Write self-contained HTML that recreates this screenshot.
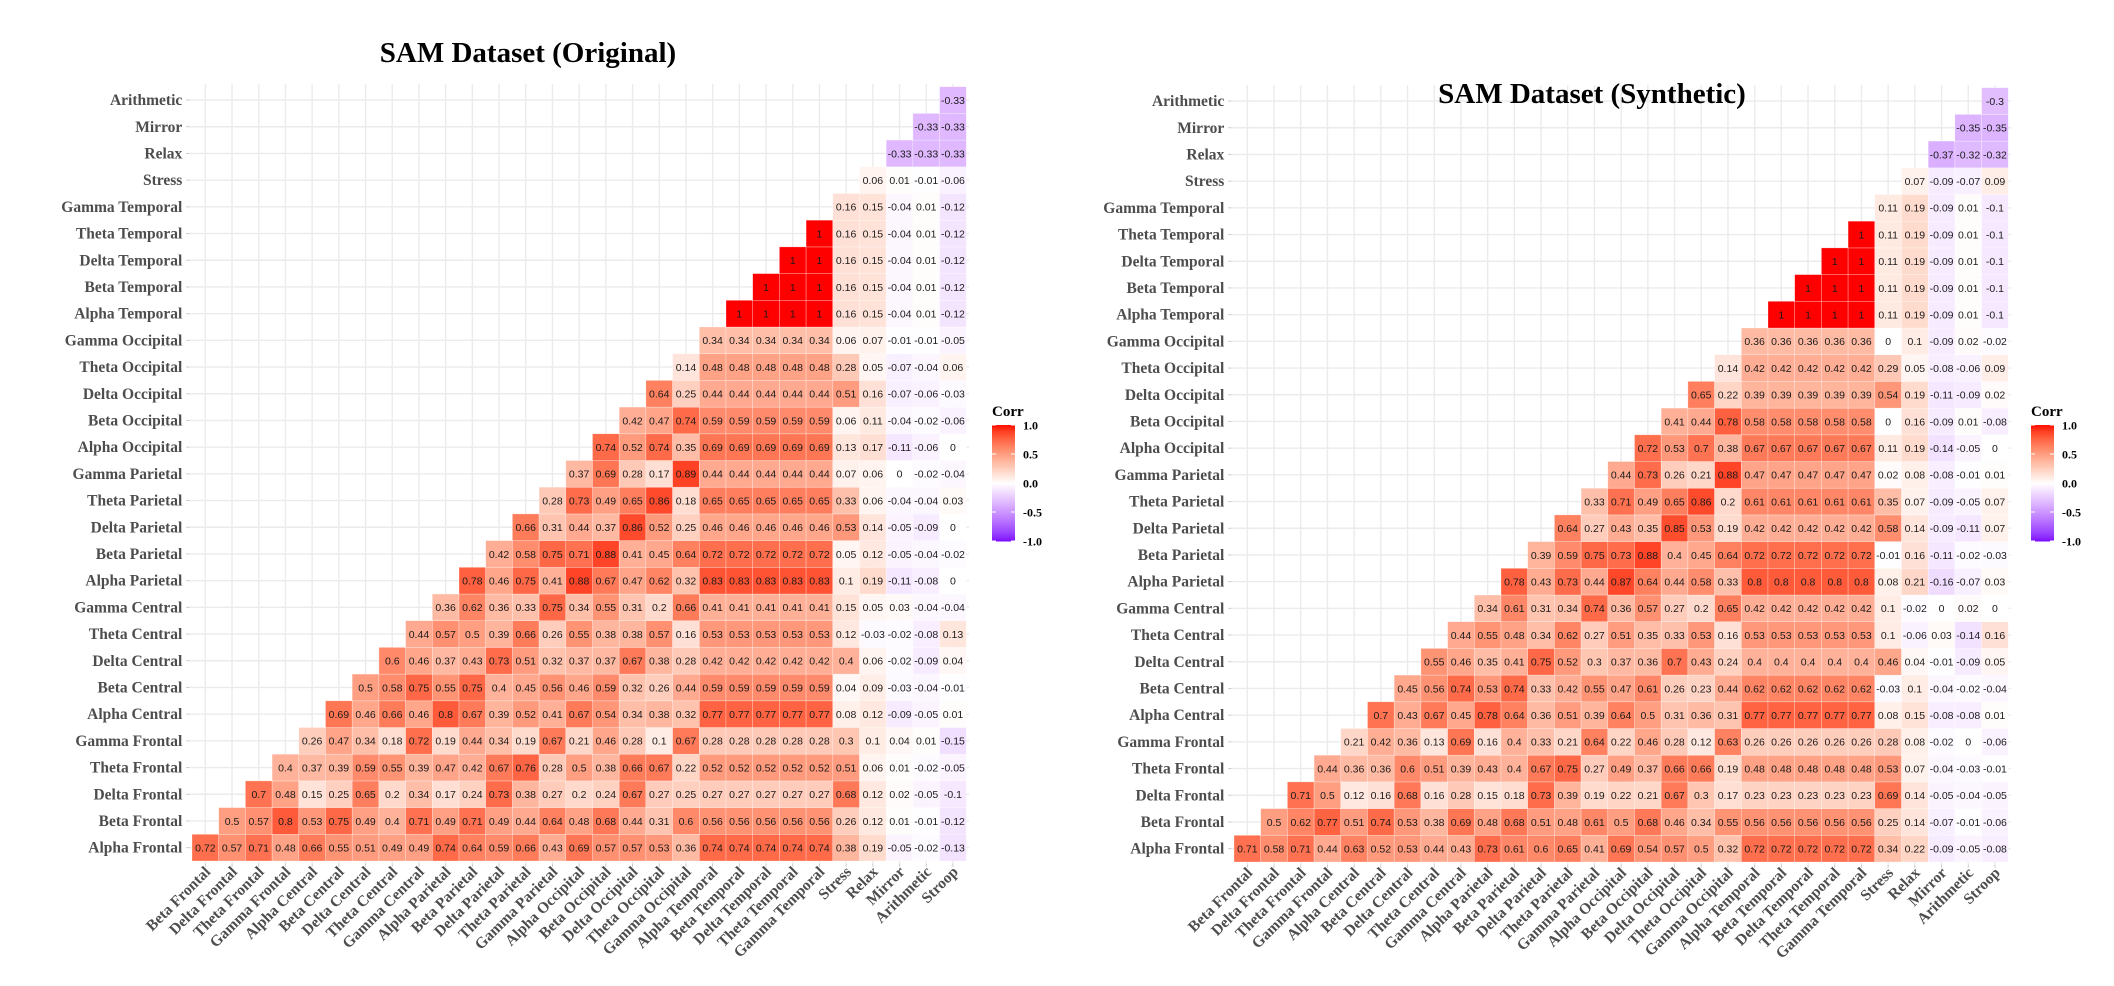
<!DOCTYPE html>
<html>
<head>
<meta charset="utf-8">
<style>
  html,body{margin:0;padding:0;background:#fff;}
  svg{display:block;}
  .ylab,.xlab{font-family:"Liberation Serif",serif;font-weight:bold;font-size:15.5px;fill:#4d4d4d;}
  .cellv{font-family:"Liberation Sans",sans-serif;font-size:10.5px;fill:#1a1a1a;}
  .title{font-family:"Liberation Serif",serif;font-weight:bold;font-size:29px;fill:#000;}
  .legt{font-family:"Liberation Serif",serif;font-weight:bold;font-size:15px;fill:#000;}
  .legl{font-family:"Liberation Serif",serif;font-weight:bold;font-size:12px;fill:#000;}
</style>
</head>
<body>
<svg id="root" width="2114" height="986" viewBox="0 0 2114 986" xmlns="http://www.w3.org/2000/svg">
  <rect x="0" y="0" width="2114" height="986" fill="#fff"/>
  <g id="chartL"></g>
  <g id="chartR"></g>
</svg>
<script>
const variables = ["Alpha Frontal","Beta Frontal","Delta Frontal","Theta Frontal","Gamma Frontal","Alpha Central","Beta Central","Delta Central","Theta Central","Gamma Central","Alpha Parietal","Beta Parietal","Delta Parietal","Theta Parietal","Gamma Parietal","Alpha Occipital","Beta Occipital","Delta Occipital","Theta Occipital","Gamma Occipital","Alpha Temporal","Beta Temporal","Delta Temporal","Theta Temporal","Gamma Temporal","Stress","Relax","Mirror","Arithmetic","Stroop"];
const legendTicks = [1.0, 0.5, 0.0, -0.5, -1.0];
const legendTickLabels = ["1.0","0.5","0.0","-0.5","-1.0"];

const originalRows = [
[0.72,0.57,0.71,0.48,0.66,0.55,0.51,0.49,0.49,0.74,0.64,0.59,0.66,0.43,0.69,0.57,0.57,0.53,0.36,0.74,0.74,0.74,0.74,0.74,0.38,0.19,-0.05,-0.02,-0.13],
[0.5,0.57,0.8,0.53,0.75,0.49,0.4,0.71,0.49,0.71,0.49,0.44,0.64,0.48,0.68,0.44,0.31,0.6,0.56,0.56,0.56,0.56,0.56,0.26,0.12,0.01,-0.01,-0.12],
[0.7,0.48,0.15,0.25,0.65,0.2,0.34,0.17,0.24,0.73,0.38,0.27,0.2,0.24,0.67,0.27,0.25,0.27,0.27,0.27,0.27,0.27,0.68,0.12,0.02,-0.05,-0.1],
[0.4,0.37,0.39,0.59,0.55,0.39,0.47,0.42,0.67,0.76,0.28,0.5,0.38,0.66,0.67,0.22,0.52,0.52,0.52,0.52,0.52,0.51,0.06,0.01,-0.02,-0.05],
[0.26,0.47,0.34,0.18,0.72,0.19,0.44,0.34,0.19,0.67,0.21,0.46,0.28,0.1,0.67,0.28,0.28,0.28,0.28,0.28,0.3,0.1,0.04,0.01,-0.15],
[0.69,0.46,0.66,0.46,0.8,0.67,0.39,0.52,0.41,0.67,0.54,0.34,0.38,0.32,0.77,0.77,0.77,0.77,0.77,0.08,0.12,-0.09,-0.05,0.01],
[0.5,0.58,0.75,0.55,0.75,0.4,0.45,0.56,0.46,0.59,0.32,0.26,0.44,0.59,0.59,0.59,0.59,0.59,0.04,0.09,-0.03,-0.04,-0.01],
[0.6,0.46,0.37,0.43,0.73,0.51,0.32,0.37,0.37,0.67,0.38,0.28,0.42,0.42,0.42,0.42,0.42,0.4,0.06,-0.02,-0.09,0.04],
[0.44,0.57,0.5,0.39,0.66,0.26,0.55,0.38,0.38,0.57,0.16,0.53,0.53,0.53,0.53,0.53,0.12,-0.03,-0.02,-0.08,0.13],
[0.36,0.62,0.36,0.33,0.75,0.34,0.55,0.31,0.2,0.66,0.41,0.41,0.41,0.41,0.41,0.15,0.05,0.03,-0.04,-0.04],
[0.78,0.46,0.75,0.41,0.88,0.67,0.47,0.62,0.32,0.83,0.83,0.83,0.83,0.83,0.1,0.19,-0.11,-0.08,0],
[0.42,0.58,0.75,0.71,0.88,0.41,0.45,0.64,0.72,0.72,0.72,0.72,0.72,0.05,0.12,-0.05,-0.04,-0.02],
[0.66,0.31,0.44,0.37,0.86,0.52,0.25,0.46,0.46,0.46,0.46,0.46,0.53,0.14,-0.05,-0.09,0],
[0.28,0.73,0.49,0.65,0.86,0.18,0.65,0.65,0.65,0.65,0.65,0.33,0.06,-0.04,-0.04,0.03],
[0.37,0.69,0.28,0.17,0.89,0.44,0.44,0.44,0.44,0.44,0.07,0.06,0,-0.02,-0.04],
[0.74,0.52,0.74,0.35,0.69,0.69,0.69,0.69,0.69,0.13,0.17,-0.11,-0.06,0],
[0.42,0.47,0.74,0.59,0.59,0.59,0.59,0.59,0.06,0.11,-0.04,-0.02,-0.06],
[0.64,0.25,0.44,0.44,0.44,0.44,0.44,0.51,0.16,-0.07,-0.06,-0.03],
[0.14,0.48,0.48,0.48,0.48,0.48,0.28,0.05,-0.07,-0.04,0.06],
[0.34,0.34,0.34,0.34,0.34,0.06,0.07,-0.01,-0.01,-0.05],
[1,1,1,1,0.16,0.15,-0.04,0.01,-0.12],
[1,1,1,0.16,0.15,-0.04,0.01,-0.12],
[1,1,0.16,0.15,-0.04,0.01,-0.12],
[1,0.16,0.15,-0.04,0.01,-0.12],
[0.16,0.15,-0.04,0.01,-0.12],
[0.06,0.01,-0.01,-0.06],
[-0.33,-0.33,-0.33],
[-0.33,-0.33],
[-0.33]
];

const syntheticRows = [
[0.71,0.58,0.71,0.44,0.63,0.52,0.53,0.44,0.43,0.73,0.61,0.6,0.65,0.41,0.69,0.54,0.57,0.5,0.32,0.72,0.72,0.72,0.72,0.72,0.34,0.22,-0.09,-0.05,-0.08],
[0.5,0.62,0.77,0.51,0.74,0.53,0.38,0.69,0.48,0.68,0.51,0.48,0.61,0.5,0.68,0.46,0.34,0.55,0.56,0.56,0.56,0.56,0.56,0.25,0.14,-0.07,-0.01,-0.06],
[0.71,0.5,0.12,0.16,0.68,0.16,0.28,0.15,0.18,0.73,0.39,0.19,0.22,0.21,0.67,0.3,0.17,0.23,0.23,0.23,0.23,0.23,0.69,0.14,-0.05,-0.04,-0.05],
[0.44,0.36,0.36,0.6,0.51,0.39,0.43,0.4,0.67,0.75,0.27,0.49,0.37,0.66,0.66,0.19,0.48,0.48,0.48,0.48,0.48,0.53,0.07,-0.04,-0.03,-0.01],
[0.21,0.42,0.36,0.13,0.69,0.16,0.4,0.33,0.21,0.64,0.22,0.46,0.28,0.12,0.63,0.26,0.26,0.26,0.26,0.26,0.28,0.08,-0.02,0,-0.06],
[0.7,0.43,0.67,0.45,0.78,0.64,0.36,0.51,0.39,0.64,0.5,0.31,0.36,0.31,0.77,0.77,0.77,0.77,0.77,0.08,0.15,-0.08,-0.08,0.01],
[0.45,0.56,0.74,0.53,0.74,0.33,0.42,0.55,0.47,0.61,0.26,0.23,0.44,0.62,0.62,0.62,0.62,0.62,-0.03,0.1,-0.04,-0.02,-0.04],
[0.55,0.46,0.35,0.41,0.75,0.52,0.3,0.37,0.36,0.7,0.43,0.24,0.4,0.4,0.4,0.4,0.4,0.46,0.04,-0.01,-0.09,0.05],
[0.44,0.55,0.48,0.34,0.62,0.27,0.51,0.35,0.33,0.53,0.16,0.53,0.53,0.53,0.53,0.53,0.1,-0.06,0.03,-0.14,0.16],
[0.34,0.61,0.31,0.34,0.74,0.36,0.57,0.27,0.2,0.65,0.42,0.42,0.42,0.42,0.42,0.1,-0.02,0,0.02,0],
[0.78,0.43,0.73,0.44,0.87,0.64,0.44,0.58,0.33,0.8,0.8,0.8,0.8,0.8,0.08,0.21,-0.16,-0.07,0.03],
[0.39,0.59,0.75,0.73,0.88,0.4,0.45,0.64,0.72,0.72,0.72,0.72,0.72,-0.01,0.16,-0.11,-0.02,-0.03],
[0.64,0.27,0.43,0.35,0.85,0.53,0.19,0.42,0.42,0.42,0.42,0.42,0.58,0.14,-0.09,-0.11,0.07],
[0.33,0.71,0.49,0.65,0.86,0.2,0.61,0.61,0.61,0.61,0.61,0.35,0.07,-0.09,-0.05,0.07],
[0.44,0.73,0.26,0.21,0.88,0.47,0.47,0.47,0.47,0.47,0.02,0.08,-0.08,-0.01,0.01],
[0.72,0.53,0.7,0.38,0.67,0.67,0.67,0.67,0.67,0.11,0.19,-0.14,-0.05,0],
[0.41,0.44,0.78,0.58,0.58,0.58,0.58,0.58,0,0.16,-0.09,0.01,-0.08],
[0.65,0.22,0.39,0.39,0.39,0.39,0.39,0.54,0.19,-0.11,-0.09,0.02],
[0.14,0.42,0.42,0.42,0.42,0.42,0.29,0.05,-0.08,-0.06,0.09],
[0.36,0.36,0.36,0.36,0.36,0,0.1,-0.09,0.02,-0.02],
[1,1,1,1,0.11,0.19,-0.09,0.01,-0.1],
[1,1,1,0.11,0.19,-0.09,0.01,-0.1],
[1,1,0.11,0.19,-0.09,0.01,-0.1],
[1,0.11,0.19,-0.09,0.01,-0.1],
[0.11,0.19,-0.09,0.01,-0.1],
[0.07,-0.09,-0.07,0.09],
[-0.37,-0.32,-0.32],
[-0.35,-0.35],
[-0.3]
];

const NS = "http://www.w3.org/2000/svg";
function mk(tag, attrs, parent){
  const e = document.createElementNS(NS, tag);
  for (const k in attrs) e.setAttribute(k, attrs[k]);
  parent.appendChild(e);
  return e;
}

// ---- Lab colour interpolation (like ggplot gradient2) ----
function lin(c){c/=255;return c<=0.04045?c/12.92:Math.pow((c+0.055)/1.055,2.4);}
function delin(c){c=c<=0.0031308?12.92*c:1.055*Math.pow(c,1/2.4)-0.055;return Math.max(0,Math.min(255,Math.round(c*255)));}
const Xn=0.95047,Yn=1.0,Zn=1.08883;
function f(t){return t>0.008856?Math.cbrt(t):7.787*t+16/116;}
function finv(t){return t>0.206893?t*t*t:(t-16/116)/7.787;}
function toLab(rgb){
  const r=lin(rgb[0]),g=lin(rgb[1]),b=lin(rgb[2]);
  const X=0.4124*r+0.3576*g+0.1805*b, Y=0.2126*r+0.7152*g+0.0722*b, Z=0.0193*r+0.1192*g+0.9505*b;
  const fx=f(X/Xn),fy=f(Y/Yn),fz=f(Z/Zn);
  return [116*fy-16,500*(fx-fy),200*(fy-fz)];
}
function fromLab(lab){
  const fy=(lab[0]+16)/116, fx=fy+lab[1]/500, fz=fy-lab[2]/200;
  const X=Xn*finv(fx),Y=Yn*finv(fy),Z=Zn*finv(fz);
  const r=3.2406*X-1.5372*Y-0.4986*Z, g=-0.9689*X+1.8758*Y+0.0415*Z, b=0.0557*X-0.2040*Y+1.0570*Z;
  return "rgb("+delin(r)+","+delin(g)+","+delin(b)+")";
}
const LAB_W=toLab([255,255,255]), LAB_HI=toLab([255,0,0]), LAB_LO=toLab([125,0,255]);
function fillFor(v){
  const t=Math.min(1,Math.abs(v)); const end=v>=0?LAB_HI:LAB_LO;
  return fromLab([0,1,2].map(i=>LAB_W[i]+(end[i]-LAB_W[i])*t));
}

const CELL = 26.7;

function drawChart(g, rows, opt){
  const n = variables.length - 1; // 29 rows / columns
  const x0 = opt.x0, yB = opt.yB;
  const xScale = c => x0 + c*CELL;            // left of column c
  const yScale = r => yB - (r+1)*CELL;        // top of row r
  const px0 = x0 - 2.7, px1 = x0 + n*CELL + 2.7, py0 = yB - n*CELL - 2.7, py1 = yB + 2.7;

  // grid
  const grid = mk("g", {}, g);
  
  
  for (let i=0;i<n;i++){
    mk("line",{x1:xScale(i)+CELL/2,x2:xScale(i)+CELL/2,y1:py0,y2:py1,stroke:"#ebebeb","stroke-width":1.4},grid);
    mk("line",{y1:yScale(i)+CELL/2,y2:yScale(i)+CELL/2,x1:px0,x2:px1,stroke:"#ebebeb","stroke-width":1.4},grid);
    mk("line",{x1:xScale(i)+CELL/2,x2:xScale(i)+CELL/2,y1:py1,y2:py1+3,stroke:"#c8c8c8","stroke-width":1},grid);
    mk("line",{y1:yScale(i)+CELL/2,y2:yScale(i)+CELL/2,x1:px0-3,x2:px0,stroke:"#c8c8c8","stroke-width":1},grid);
  }

  // tiles
  const tiles = mk("g", {}, g);
  
  
  rows.forEach((vals, r) => {
    vals.forEach((v, k) => {
      const c = r + k;
      const x = xScale(c), y = yScale(r);
      const cell = mk("g", {}, tiles);
      
      
      mk("rect",{x:x,y:y,width:CELL,height:CELL,fill:fillFor(v),stroke:"#ffffff","stroke-opacity":0.45,"stroke-width":0.6},cell);
      const t = mk("text",{x:x+CELL/2,y:y+CELL/2+3.8,"text-anchor":"middle","class":"cellv"},cell);
      t.textContent = String(v);
    });
  });

  // y labels
  for (let r=0;r<n;r++){
    const t = mk("text",{x:px0-7,y:yScale(r)+CELL/2+5,"text-anchor":"end","class":"ylab"},g);
    
    
    t.textContent = variables[r];
  }
  // x labels
  for (let c=0;c<n;c++){
    const ax = xScale(c)+CELL/2+6, ay = py1+9;
    const t = mk("text",{x:ax,y:ay,"text-anchor":"end","class":"xlab",transform:"rotate(-45 "+ax+" "+ay+")"},g);
    
    
    t.textContent = variables[c+1];
  }

  // title
  const tt = mk("text",{x:opt.titleX,y:opt.titleY,"text-anchor":"middle","class":"title"},g);
  
  
  tt.textContent = opt.title;

  // legend
  const lg = mk("g", {}, g);
  
  
  const lt = mk("text",{x:opt.legX,y:416,"class":"legt"},lg);
  
  
  lt.textContent = "Corr";
  const bTop = 425, bBot = 541, bW = 23;
  const legY = v => bBot - (v+1)/2*(bBot-bTop);
  const steps = 60;
  for (let i=0;i<steps;i++){
    const v1 = -1 + 2*i/steps, v2 = -1 + 2*(i+1)/steps;
    mk("rect",{x:opt.legX,y:legY(v2),width:bW,height:legY(v1)-legY(v2)+0.5,fill:fillFor((v1+v2)/2)},lg);
  }
  legendTicks.forEach((v,i)=>{
    const y = legY(v);
    mk("line",{x1:opt.legX,x2:opt.legX+4,y1:y,y2:y,stroke:"#fff","stroke-width":1},lg);
    mk("line",{x1:opt.legX+bW-4,x2:opt.legX+bW,y1:y,y2:y,stroke:"#fff","stroke-width":1},lg);
    const l = mk("text",{x:opt.legX+bW+8,y:y+4.5,"class":"legl"},lg);
    
    
    l.textContent = legendTickLabels[i];
  });
}

drawChart(document.getElementById("chartL"), originalRows,
  {x0:192, yB:861, title:"SAM Dataset (Original)", titleX:528, titleY:62, legX:992});
drawChart(document.getElementById("chartR"), syntheticRows,
  {x0:1234, yB:862, title:"SAM Dataset (Synthetic)", titleX:1592, titleY:103, legX:2031});
</script>
</body>
</html>
